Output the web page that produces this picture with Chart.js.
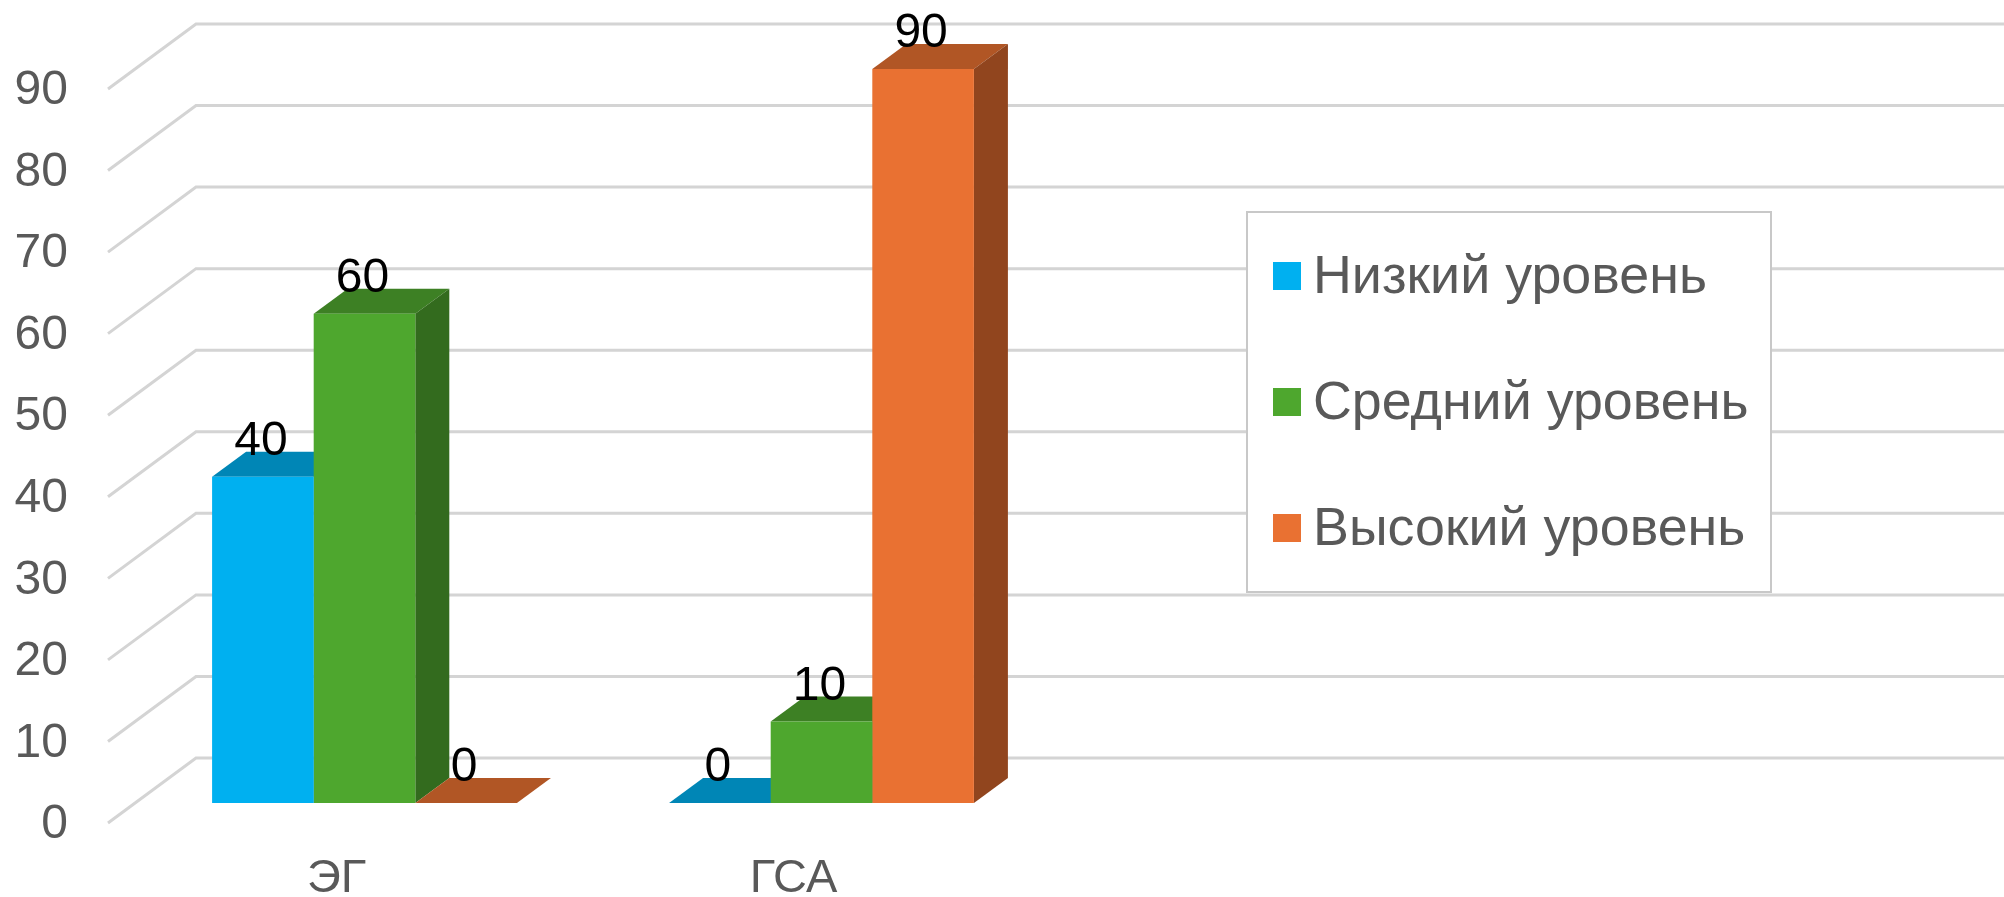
<!DOCTYPE html>
<html>
<head>
<meta charset="utf-8">
<style>html,body{margin:0;padding:0;background:#fff}canvas{display:block}</style>
<script src="https://cdn.jsdelivr.net/npm/chart.js@4"></script>
</head>
<body>
<canvas id="c" width="2004" height="897"></canvas>
<script>
const categories = ['ЭГ', 'ГСА'];
const seriesNames = ['Низкий уровень', 'Средний уровень', 'Высокий уровень'];
const lowValues = [40, 0];
const midValues = [60, 10];
const highValues = [0, 90];
const yTicks = [0, 10, 20, 30, 40, 50, 60, 70, 80, 90];

const frontColors = ['#00B0F0', '#4EA72E', '#E97132'];
const topColors = ['#0086B6', '#3D8024', '#B15625'];
const sideColors = ['#00688E', '#336B1E', '#91451E'];
const FONT = '"Liberation Sans", Arial, sans-serif';
const TEXT = '#595959';

const depth = {dx: 34, dy: 25};
const wall = {frontX: 108, backX: 196, up: 45, down: 20};
const legendBox = {x: 1247, y: 212, w: 524, h: 380, swatchX: 1273, swatchW: 28, swatchH: 28, textX: 1313, rows: [276, 402, 528], font: 53.8};

function poly(ctx, pts, fill) {
  ctx.beginPath();
  pts.forEach((p, i) => i ? ctx.lineTo(p[0], p[1]) : ctx.moveTo(p[0], p[1]));
  ctx.closePath();
  ctx.fillStyle = fill;
  ctx.fill();
}

const scene3d = {
  id: 'scene3d',
  beforeDraw(chart) {
    const ctx = chart.ctx, y = chart.scales.y;
    ctx.save();
    ctx.fillStyle = '#fff';
    ctx.fillRect(0, 0, chart.width, chart.height);
    ctx.strokeStyle = '#D4D4D4';
    ctx.lineWidth = 3;
    yTicks.forEach(v => {
      const p = y.getPixelForValue(v);
      ctx.beginPath();
      ctx.moveTo(wall.frontX, p + wall.down);
      ctx.lineTo(wall.backX, p - wall.up);
      ctx.lineTo(chart.width, p - wall.up);
      ctx.stroke();
    });
    const L = legendBox;
    ctx.fillStyle = '#fff';
    ctx.fillRect(L.x, L.y, L.w, L.h);
    ctx.strokeStyle = '#C8C8C8';
    ctx.lineWidth = 2;
    ctx.strokeRect(L.x, L.y, L.w, L.h);
    ctx.font = L.font + 'px ' + FONT;
    ctx.textBaseline = 'middle';
    ctx.textAlign = 'left';
    chart.data.datasets.forEach((ds, i) => {
      ctx.fillStyle = ds.backgroundColor;
      ctx.fillRect(L.swatchX, L.rows[i] - L.swatchH / 2, L.swatchW, L.swatchH);
      ctx.fillStyle = TEXT;
      ctx.fillText(ds.label, L.textX, L.rows[i] + 2);
    });
    ctx.restore();
  },
  beforeDatasetsDraw(chart) {
    const ctx = chart.ctx;
    chart.data.datasets.forEach((ds, i) => {
      chart.getDatasetMeta(i).data.forEach(bar => {
        const l = bar.x - bar.width / 2, r = bar.x + bar.width / 2, t = bar.y, b = bar.base;
        poly(ctx, [[l, t], [r, t], [r + depth.dx, t - depth.dy], [l + depth.dx, t - depth.dy]], topColors[i]);
        if (b - t > 0.5) poly(ctx, [[r, t], [r + depth.dx, t - depth.dy], [r + depth.dx, b - depth.dy], [r, b]], sideColors[i]);
      });
    });
  },
  afterDatasetsDraw(chart) {
    const ctx = chart.ctx;
    ctx.save();
    ctx.font = '48px ' + FONT;
    ctx.fillStyle = '#000';
    ctx.textAlign = 'center';
    ctx.textBaseline = 'middle';
    chart.data.datasets.forEach((ds, i) => {
      chart.getDatasetMeta(i).data.forEach((bar, j) => {
        ctx.fillText(String(ds.data[j]), bar.x - 2, bar.y - 35);
      });
    });
    ctx.restore();
  }
};

new Chart(document.getElementById('c'), {
  type: 'bar',
  data: {
    labels: categories,
    datasets: [lowValues, midValues, highValues].map((d, i) => ({
      label: seriesNames[i],
      data: d,
      backgroundColor: frontColors[i],
      borderWidth: 0,
      categoryPercentage: 0.667,
      barPercentage: 1
    }))
  },
  options: {
    responsive: false,
    animation: false,
    layout: {padding: {left: 0, right: 954, top: 69, bottom: 0}},
    plugins: {legend: {display: false}, tooltip: {enabled: false}},
    scales: {
      x: {
        offset: true,
        grid: {display: false, drawTicks: false},
        border: {display: false},
        afterFit(s) { s.height = 94; s.paddingLeft = 0; s.paddingRight = 0; s.paddingTop = 0; s.paddingBottom = 0; },
        ticks: {color: TEXT, font: {family: FONT, size: 47}, labelOffset: -28, padding: 48, maxRotation: 0}
      },
      y: {
        min: 0, max: 90,
        grid: {display: false, drawTicks: false},
        border: {display: false},
        afterFit(s) { s.width = 136; s.paddingTop = 0; s.paddingBottom = 0; s.paddingLeft = 0; s.paddingRight = 0; },
        ticks: {stepSize: 10, color: TEXT, font: {family: FONT, size: 48}, labelOffset: 22, padding: 68}
      }
    }
  },
  plugins: [scene3d]
});
</script>
</body>
</html>
